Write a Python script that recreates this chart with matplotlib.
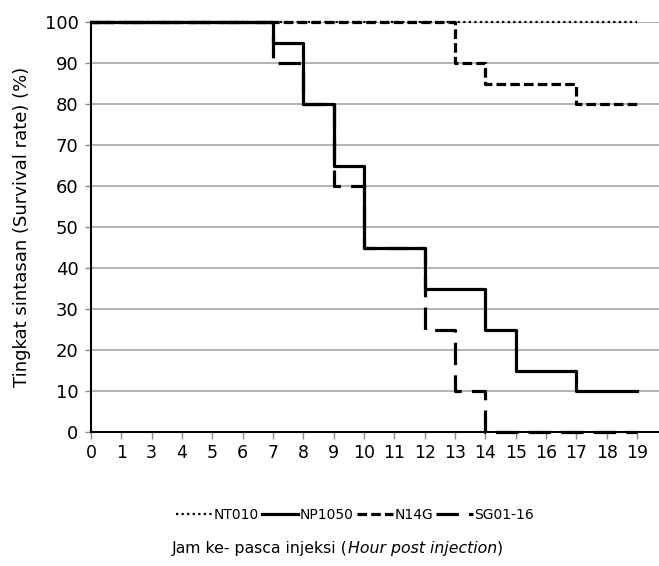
import matplotlib
matplotlib.use("Agg")
import matplotlib.pyplot as plt
import numpy as np

categories = ['0', '1', '3', '4', '5', '6', '7', '8', '9', '10', '11', '12',
              '13', '14', '15', '16', '17', '18', '19']
nt010 = [100, 100, 100, 100, 100, 100, 100, 100, 100, 100, 100, 100,
         100, 100, 100, 100, 100, 100, 100]
np1050 = [100, 100, 100, 100, 100, 100, 95, 80, 65, 45, 45, 35,
          35, 25, 15, 15, 10, 10, 10]
n14g = [100, 100, 100, 100, 100, 100, 100, 100, 100, 100, 100, 100,
        90, 85, 85, 85, 80, 80, 80]
sg0116 = [100, 100, 100, 100, 100, 100, 90, 80, 60, 45, 45, 25,
          10, 0, 0, 0, 0, 0, 0]
yticks = [0, 10, 20, 30, 40, 50, 60, 70, 80, 90, 100]

plt.rcParams['font.family'] = ['DejaVu Sans']

fig = plt.figure(figsize=(6.59, 5.66), dpi=100)
ax = fig.add_axes([91/659, 1-432/566, 1-91/659, 410/566])

x = np.arange(len(categories))
lw = 2.3
ax.plot(x, nt010, drawstyle='steps-post', color='black', lw=1.6,
        dashes=(1, 1.5), label='NT010', clip_on=False, zorder=3)
ax.plot(x, np1050, drawstyle='steps-post', color='black', lw=lw,
        label='NP1050', clip_on=False, zorder=4)
ax.plot(x, n14g, drawstyle='steps-post', color='black', lw=lw,
        dashes=(3, 1.3), label='N14G', clip_on=False, zorder=5)
ax.plot(x, sg0116, drawstyle='steps-post', color='black', lw=lw,
        dashes=(7, 3.2), label='SG01-16', clip_on=False, zorder=6)

ax.set_xlim(0, 18.72)
ax.set_ylim(0, 100)
ax.set_xticks(x)
ax.set_xticklabels(categories)
ax.set_yticks(yticks)
ax.tick_params(axis='y', length=4, width=1, color='#8c8c8c', pad=5, labelsize=13)
ax.tick_params(axis='x', length=5, width=1, color='#8c8c8c', direction='out',
               pad=4, labelsize=12.5)
ax.grid(axis='y', color='#a6a6a6', lw=1.2)
ax.set_axisbelow(True)
for s in ['top', 'right']:
    ax.spines[s].set_visible(False)
for s in ['left', 'bottom']:
    ax.spines[s].set_linewidth(1.5)
    ax.spines[s].set_zorder(2.5)

ax.set_ylabel('Tingkat sintasan (Survival rate) (%)', fontsize=13, labelpad=10)

fig.legend(loc='center', bbox_to_anchor=(355/659, 1-515/566), ncol=4,
           frameon=False, fontsize=10, handlelength=2.6, handletextpad=0.15,
           columnspacing=0.2)

fs = 11.3
t1 = fig.text(172/659, 1-548/566, 'Jam ke- pasca injeksi (', fontsize=fs,
              ha='left', va='center')
a1 = ax.annotate('Hour post injection', xy=(1, 0.5), xycoords=t1,
                 fontsize=fs, style='italic', ha='left', va='center',
                 annotation_clip=False)
a2 = ax.annotate(')', xy=(1, 0.5), xycoords=a1, fontsize=fs,
                 ha='left', va='center', annotation_clip=False)
fig.savefig('out.png', dpi=100)
